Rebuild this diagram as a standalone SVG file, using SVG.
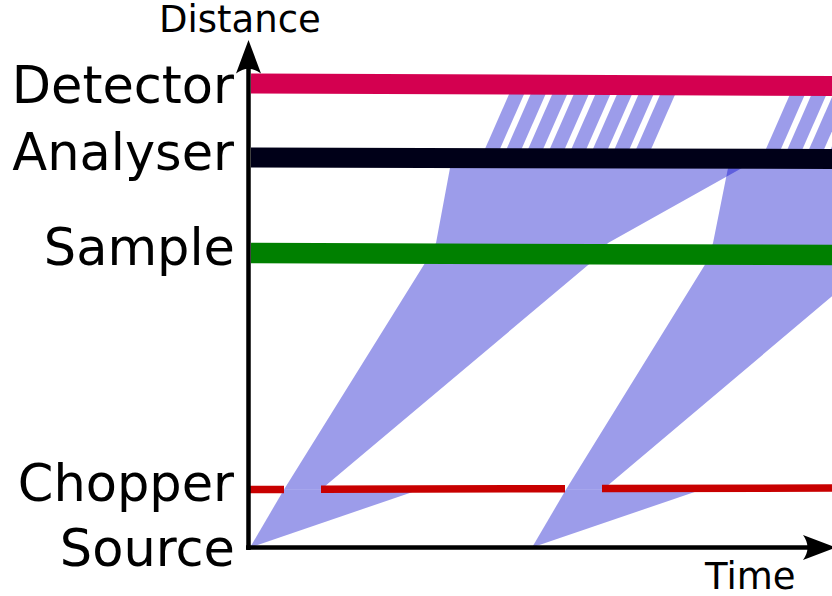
<svg xmlns="http://www.w3.org/2000/svg" width="832" height="596" viewBox="0 0 832 596">
  <style>
    .beam { fill: #0000c8; fill-opacity: 0.39; }
    .label { font-family: "DejaVu Sans", "Liberation Sans", sans-serif; font-size: 51px; fill: #000; text-anchor: end; }
    .axis-label { font-family: "DejaVu Sans", "Liberation Sans", sans-serif; font-size: 37px; fill: #000; }
    .axis { stroke: #000; stroke-width: 4.5; fill: none; }
    .level { fill: none; stroke-linecap: butt; }
  </style>

  <!-- neutron pulses in the distance-time plane -->
  <g id="pulses">
    <g id="pulse-1">
      <polygon class="beam" points="250,547.5 284,489.5 420,489.5"/>
      <polygon class="beam" points="284,489.5 425,263 436,243 450,168 452,158 760,158 742,168 608,243 590.5,263 321,489.5"/>
      <g id="pulse-1-final">
        <polygon class="beam" points="481,158 496,158 528.5,84 513.5,84"/>
        <polygon class="beam" points="502.6,158 517.6,158 550.1,84 535.1,84"/>
        <polygon class="beam" points="524.2,158 539.2,158 571.7,84 556.7,84"/>
        <polygon class="beam" points="545.8,158 560.8,158 593.3,84 578.3,84"/>
        <polygon class="beam" points="567.4,158 582.4,158 614.9,84 599.9,84"/>
        <polygon class="beam" points="589,158 604,158 636.5,84 621.5,84"/>
        <polygon class="beam" points="610.6,158 625.6,158 658.1,84 643.1,84"/>
        <polygon class="beam" points="632.2,158 647.2,158 679.7,84 664.7,84"/>
      </g>
    </g>
    <g id="pulse-2">
      <polygon class="beam" points="532,547.5 566,489.5 702,489.5"/>
      <polygon class="beam" points="566,489.5 706,263 713,243 728,168 730,158 1050,158 900,243 871.5,263 603,489.5"/>
      <g id="pulse-2-final">
        <polygon class="beam" points="762,158 777,158 809.5,84 794.5,84"/>
        <polygon class="beam" points="783.6,158 798.6,158 831.1,84 816.1,84"/>
        <polygon class="beam" points="805.2,158 820.2,158 852.7,84 837.7,84"/>
        <polygon class="beam" points="826.8,158 841.8,158 874.3,84 859.3,84"/>
      </g>
    </g>
  </g>

  <!-- instrument components -->
  <g id="detector">
    <line class="level" x1="251" y1="83.5" x2="832" y2="86" stroke="#d40050" stroke-width="20"/>
    <text class="label" x="234" y="103">Detector</text>
  </g>
  <g id="analyser">
    <line class="level" x1="251" y1="157.5" x2="832" y2="159" stroke="#000018" stroke-width="20"/>
    <text class="label" x="234" y="170">Analyser</text>
  </g>
  <g id="sample">
    <line class="level" x1="251" y1="253" x2="832" y2="255" stroke="#008000" stroke-width="20.5"/>
    <text class="label" x="235" y="265">Sample</text>
  </g>
  <g id="chopper">
    <line class="level" x1="247" y1="489.5" x2="284" y2="489.4" stroke="#c80000" stroke-width="7.5"/>
    <line class="level" x1="321" y1="489.3" x2="565" y2="488.7" stroke="#c80000" stroke-width="7.5"/>
    <line class="level" x1="602" y1="488.6" x2="832" y2="488" stroke="#c80000" stroke-width="7.5"/>
    <text class="label" x="234" y="501">Chopper</text>
  </g>
  <g id="source">
    <text class="label" x="235" y="566">Source</text>
  </g>

  <!-- axes -->
  <g id="axes">
    <line class="axis" x1="248.5" y1="550" x2="248.5" y2="66"/>
    <path d="M248.5,40 L261,73.5 Q248.5,64 236,73.5 Z" fill="#000"/>
    <line class="axis" x1="246" y1="547.5" x2="810" y2="547.5"/>
    <path d="M836,547.5 L803,560 Q812,547.5 803,535 Z" fill="#000"/>
    <text class="axis-label" x="159" y="32">Distance</text>
    <text class="axis-label" x="705" y="589">Time</text>
  </g>
</svg>
